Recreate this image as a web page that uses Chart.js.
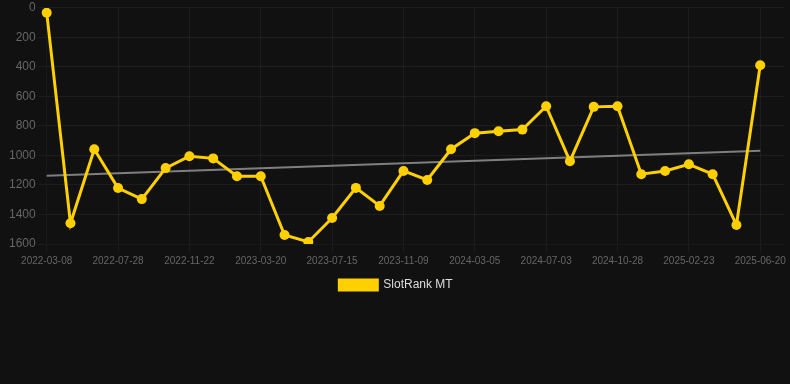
<!DOCTYPE html>
<html lang="en">
<head>
  <meta charset="UTF-8">
  <title>SlotRank MT</title>
  <script src="https://cdn.jsdelivr.net/npm/chart.js"></script>
  <style>
    body { margin: 0; background: #111111; }
    .chart-box { width: 790px; height: 301px; position: relative; }
  </style>
</head>
<body>
  <div class="chart-box">
    <canvas id="rankChart"></canvas>
  </div>

  <script>
    // dates of each rank reading (last one is an empty slot at the right edge)
    const dates = [
      '2022-03-08', '2022-04-24', '2022-06-10', '2022-07-28', '2022-09-05', '2022-10-14',
      '2022-11-22', '2022-12-31', '2023-02-09', '2023-03-20', '2023-04-28', '2023-06-06',
      '2023-07-15', '2023-08-23', '2023-10-01', '2023-11-09', '2023-12-18', '2024-01-26',
      '2024-03-05', '2024-04-14', '2024-05-24', '2024-07-03', '2024-08-11', '2024-09-19',
      '2024-10-28', '2024-12-06', '2025-01-14', '2025-02-23', '2025-04-03', '2025-05-12',
      '2025-06-20', ''
    ];

    const ranks = [
      33, 1460, 958, 1221, 1296, 1086,
      1005, 1020, 1141, 1141, 1539, 1586,
      1424, 1220, 1342, 1105, 1166, 958,
      849, 836, 825, 667, 1039, 671,
      667, 1127, 1105, 1060, 1127, 1471,
      389
    ];

    // trend line end points
    const trendStart = 1137;
    const trendEnd = 969;

    const yTicks = [0, 200, 400, 600, 800, 1000, 1200, 1400, 1600];

    const ctx = document.getElementById('rankChart').getContext('2d');
    new Chart(ctx, {
      type: 'line',
      data: {
        labels: dates,
        datasets: [
          {
            label: 'SlotRank MT',
            data: ranks,
            borderColor: '#FFD000',
            backgroundColor: '#FFD000',
            borderWidth: 3,
            pointRadius: 5,
            pointHoverRadius: 6,
            pointBackgroundColor: '#FFD000',
            pointBorderWidth: 0,
            tension: 0,
            order: 1
          },
          {
            label: 'Trend',
            data: [
              { x: dates[0], y: trendStart },
              { x: dates[ranks.length - 1], y: trendEnd }
            ],
            borderColor: 'rgba(140, 140, 140, 0.9)',
            borderWidth: 2,
            pointRadius: 0,
            order: 2
          }
        ]
      },
      options: {
        responsive: true,
        maintainAspectRatio: false,
        animation: false,
        layout: { padding: { left: 6, right: 4 } },
        scales: {
          x: {
            offset: false,
            grid: { color: 'rgba(255, 255, 255, 0.05)' },
            ticks: {
              color: '#666666',
              font: { size: 10 },
              autoSkip: false,
              maxRotation: 0,
              callback: function(value, index) {
                return index % 3 === 0 ? this.getLabelForValue(value) : null;
              }
            }
          },
          y: {
            reverse: true,
            min: yTicks[0],
            max: yTicks[yTicks.length - 1],
            grid: { color: 'rgba(255, 255, 255, 0.05)' },
            afterBuildTicks: function(axis) {
              axis.ticks = yTicks.map(v => ({ value: v }));
            },
            ticks: {
              color: '#666666',
              font: { size: 12, lineHeight: 0.8 },
              callback: value => String(value)
            }
          }
        },
        plugins: {
          legend: {
            position: 'bottom',
            labels: {
              color: '#dddddd',
              font: { size: 12 },
              boxWidth: 38,
              boxHeight: 10,
              padding: 9,
              filter: item => item.text !== 'Trend'
            }
          },
          tooltip: { enabled: false }
        }
      }
    });
  </script>
</body>
</html>
